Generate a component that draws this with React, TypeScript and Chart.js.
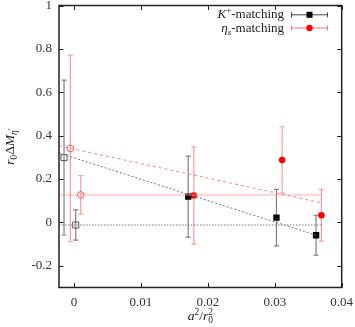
import React, { useEffect, useRef } from "react";
import { Chart, registerables } from "chart.js";
Chart.register(...registerables);

const xTicks = [0, 0.01, 0.02, 0.03, 0.04];
const yTicks = [-0.2, 0, 0.2, 0.4, 0.6, 0.8, 1];

const kX = [0.01706, 0.03025, 0.03617];
const kY = [0.119, 0.022, -0.059];
const kErr = [0.187, 0.13, 0.092];

const etaX = [0.0179, 0.0311, 0.03697];
const etaY = [0.124, 0.288, 0.033];
const etaErr = [0.224, 0.153, 0.119];

const kContX = [-0.0015, 0.00025];
const kContY = [0.299, -0.012];
const kContErr = [0.357, 0.07];

const etaContX = [-0.00055, 0.001];
const etaContY = [0.341, 0.127];
const etaContErr = [0.43, 0.089];

const kFitX = [-0.00225, 0.0362];
const kFitY = [0.32, -0.059];
const kConstX = [-0.00225, 0.0369];
const kConstY = [-0.012, -0.012];
const etaFitX = [-0.00225, 0.0369];
const etaFitY = [0.353, 0.091];
const etaConstX = [-0.00225, 0.037];
const etaConstY = [0.127, 0.127];

const X_MIN = -0.00225;
const X_MAX = 0.04;
const Y_MIN = -0.3;
const Y_MAX = 1;

const FONT = '"Liberation Serif", "Times New Roman", serif';

const pts = (xs: number[], ys: number[]) => xs.map((x, i) => ({ x, y: ys[i] }));

type Part = { t: string; it?: boolean; sc?: number; dy?: number; stack?: boolean };

function drawRich(ctx: CanvasRenderingContext2D, parts: Part[], x: number, y: number, size: number, align: "left" | "right" | "center", color: string) {
  const layout: { x0: number; p: Part; f: string }[] = [];
  let cursor = 0;
  let prevStart = 0;
  for (const p of parts) {
    const s = size * (p.sc ?? 1);
    const f = `${p.it ? "italic " : ""}${s}px ${FONT}`;
    ctx.font = f;
    const w = ctx.measureText(p.t).width;
    const x0 = p.stack ? prevStart : cursor;
    layout.push({ x0, p, f });
    cursor = Math.max(cursor, x0 + w);
    prevStart = x0;
  }
  const total = cursor;
  const start = align === "left" ? x : align === "right" ? x - total : x - total / 2;
  ctx.save();
  ctx.fillStyle = color;
  ctx.textBaseline = "alphabetic";
  ctx.textAlign = "left";
  for (const l of layout) {
    ctx.font = l.f;
    ctx.fillText(l.p.t, start + l.x0, y + (l.p.dy ?? 0) * size);
  }
  ctx.restore();
}

const errorBarPlugin = {
  id: "errorBars",
  beforeDatasetsDraw(chart: any) {
    const ctx = chart.ctx as CanvasRenderingContext2D;
    const ys = chart.scales.y;
    chart.data.datasets.forEach((ds: any, i: number) => {
      if (!ds.errors) return;
      const meta = chart.getDatasetMeta(i);
      ctx.save();
      ctx.strokeStyle = ds.errColor;
      ctx.lineWidth = ds.errWidth ?? 1.2;
      meta.data.forEach((el: any, j: number) => {
        const v = ds.data[j].y;
        const e = ds.errors[j];
        const yt = ys.getPixelForValue(v + e);
        const yb = ys.getPixelForValue(v - e);
        const x = el.x;
        ctx.beginPath();
        ctx.moveTo(x, yt);
        ctx.lineTo(x, yb);
        ctx.moveTo(x - 2.5, yt);
        ctx.lineTo(x + 2.5, yt);
        ctx.moveTo(x - 2.5, yb);
        ctx.lineTo(x + 2.5, yb);
        ctx.stroke();
      });
      ctx.restore();
    });
  },
};

const framePlugin = {
  id: "frame",
  afterDraw(chart: any) {
    const ctx = chart.ctx as CanvasRenderingContext2D;
    const a = chart.chartArea;
    const xs = chart.scales.x;
    const ys = chart.scales.y;
    const tl = 4.5;
    ctx.save();
    ctx.strokeStyle = "#222";
    ctx.lineWidth = 1;
    ctx.beginPath();
    xTicks.forEach((v) => {
      const px = Math.round(xs.getPixelForValue(v)) + 0.5;
      ctx.moveTo(px, a.bottom);
      ctx.lineTo(px, a.bottom - tl);
      ctx.moveTo(px, a.top);
      ctx.lineTo(px, a.top + tl);
    });
    yTicks.forEach((v) => {
      const py = Math.round(ys.getPixelForValue(v)) + 0.5;
      ctx.moveTo(a.left, py);
      ctx.lineTo(a.left + tl, py);
      ctx.moveTo(a.right, py);
      ctx.lineTo(a.right - tl, py);
    });
    ctx.stroke();
    ctx.lineWidth = 1.5;
    ctx.strokeRect(a.left, a.top, a.right - a.left, a.bottom - a.top);
    ctx.restore();

    // axis titles
    drawRich(
      ctx,
      [
        { t: "a", it: true },
        { t: "2", sc: 0.7, dy: -0.4 },
        { t: "/" },
        { t: "r", it: true },
        { t: "0", sc: 0.7, dy: 0.25 },
        { t: "2", sc: 0.7, dy: -0.4, stack: true },
      ],
      (a.left + a.right) / 2,
      320,
      13.5,
      "center",
      "#222"
    );
    ctx.save();
    ctx.translate(14, (a.top + a.bottom) / 2);
    ctx.rotate(-Math.PI / 2);
    drawRich(
      ctx,
      [
        { t: "r", it: true },
        { t: "0", sc: 0.7, dy: 0.25 },
        { t: "Δ" },
        { t: "M", it: true },
        { t: "η", it: true, sc: 0.7, dy: 0.25 },
        { t: "′", sc: 0.7, dy: 0.05 },
      ],
      0,
      0,
      13.5,
      "center",
      "#222"
    );
    ctx.restore();

    // legend
    const rows = [
      {
        parts: [{ t: "K", it: true }, { t: "+", sc: 0.7, dy: -0.4 }, { t: "-matching" }] as Part[],
        y: 18.3,
        color: "#444",
        marker: "rect",
        mcolor: "#000",
      },
      {
        parts: [{ t: "η", it: true }, { t: "s", it: true, sc: 0.7, dy: 0.25 }, { t: "-matching" }] as Part[],
        y: 31.5,
        color: "#ff7070",
        marker: "circle",
        mcolor: "#ff0000",
      },
    ];
    rows.forEach((r) => {
      drawRich(ctx, r.parts, 284, r.y, 13, "right", "#222");
      const cy = r.y - 3.5;
      const x1 = 291;
      const x2 = 328;
      const mx = (x1 + x2) / 2;
      ctx.save();
      ctx.strokeStyle = r.color;
      ctx.lineWidth = 1;
      ctx.beginPath();
      ctx.moveTo(x1, cy);
      ctx.lineTo(x2, cy);
      ctx.moveTo(x1 + 0.5, cy - 2.5);
      ctx.lineTo(x1 + 0.5, cy + 2.5);
      ctx.moveTo(x2 - 0.5, cy - 2.5);
      ctx.lineTo(x2 - 0.5, cy + 2.5);
      ctx.stroke();
      ctx.fillStyle = r.mcolor;
      if (r.marker === "rect") {
        ctx.fillRect(mx - 3, cy - 3, 6, 6);
      } else {
        ctx.beginPath();
        ctx.arc(mx, cy, 3.2, 0, Math.PI * 2);
        ctx.fill();
      }
      ctx.restore();
    });
  },
};

export default function App() {
  const ref = useRef<HTMLCanvasElement | null>(null);
  useEffect(() => {
    if (!ref.current) return;
    const chart = new Chart(ref.current, {
      type: "scatter",
      data: {
        datasets: [
          {
            type: "line",
            data: pts(etaConstX, etaConstY),
            borderColor: "rgba(255,150,150,0.38)",
            borderWidth: 2.2,
            pointRadius: 0,
            showLine: true,
          } as any,
          {
            type: "line",
            data: pts(kConstX, kConstY),
            borderColor: "#777",
            borderWidth: 1,
            borderDash: [1.5, 1.5],
            pointRadius: 0,
            showLine: true,
          } as any,
          {
            type: "line",
            data: pts(etaFitX, etaFitY),
            borderColor: "#ff8080",
            borderWidth: 1,
            borderDash: [3, 3],
            pointRadius: 0,
            showLine: true,
          } as any,
          {
            type: "line",
            data: pts(kFitX, kFitY),
            borderColor: "#777",
            borderWidth: 1,
            borderDash: [2, 2],
            pointRadius: 0,
            showLine: true,
          } as any,
          {
            data: pts(kContX, kContY),
            errors: kContErr,
            errColor: "#808080",
            pointStyle: "rect",
            pointRadius: 4.3,
            backgroundColor: "rgba(0,0,0,0)",
            borderColor: "#555",
            borderWidth: 1,
          } as any,
          {
            data: pts(etaContX, etaContY),
            errors: etaContErr,
            errColor: "rgba(255,120,120,0.75)",
            pointStyle: "circle",
            pointRadius: 3.3,
            backgroundColor: "rgba(0,0,0,0)",
            borderColor: "#ff5a5a",
            borderWidth: 1,
          } as any,
          {
            data: pts(kX, kY),
            errors: kErr,
            errColor: "#808080",
            pointStyle: "rect",
            pointRadius: 4.5,
            backgroundColor: "#000",
            borderColor: "#000",
            borderWidth: 0,
          } as any,
          {
            data: pts(etaX, etaY),
            errors: etaErr,
            errColor: "rgba(255,120,120,0.75)",
            pointStyle: "circle",
            pointRadius: 3.3,
            backgroundColor: "#ff0000",
            borderColor: "#ff0000",
            borderWidth: 0,
          } as any,
        ],
      },
      options: {
        responsive: false,
        animation: false,
        devicePixelRatio: 1,
        layout: { padding: { top: 5.5, right: 13.3, left: 0, bottom: 0 } },
        plugins: { legend: { display: false }, tooltip: { enabled: false } },
        scales: {
          x: {
            type: "linear",
            min: X_MIN,
            max: X_MAX,
            grid: { display: false, drawTicks: false },
            border: { display: false },
            afterBuildTicks: (s: any) => {
              s.ticks = xTicks.map((v) => ({ value: v }));
            },
            afterFit: (s: any) => {
              s.height = 39.5;
              s.paddingLeft = 0;
              s.paddingRight = 0;
            },
            ticks: {
              font: { family: FONT, size: 13 },
              color: "#333",
              padding: 7,
              maxRotation: 0,
              autoSkip: false,
              callback: (v: any) => `${v}`,
            },
          },
          y: {
            type: "linear",
            min: Y_MIN,
            max: Y_MAX,
            grid: { display: false, drawTicks: false },
            border: { display: false },
            afterBuildTicks: (s: any) => {
              s.ticks = yTicks.map((v) => ({ value: v }));
            },
            afterFit: (s: any) => {
              s.width = 59;
              s.paddingTop = 0;
              s.paddingBottom = 0;
            },
            ticks: {
              font: { family: FONT, size: 13 },
              color: "#333",
              padding: 7,
              autoSkip: false,
              callback: (v: any) => `${v}`,
            },
          },
        },
      },
      plugins: [errorBarPlugin, framePlugin],
    } as any);
    return () => chart.destroy();
  }, []);
  return (
    <div style={{ position: "absolute", left: 0, top: 0, width: 355, height: 327, background: "#fff" }}>
      <canvas ref={ref} width={355} height={327} style={{ width: 355, height: 327 }} />
    </div>
  );
}
